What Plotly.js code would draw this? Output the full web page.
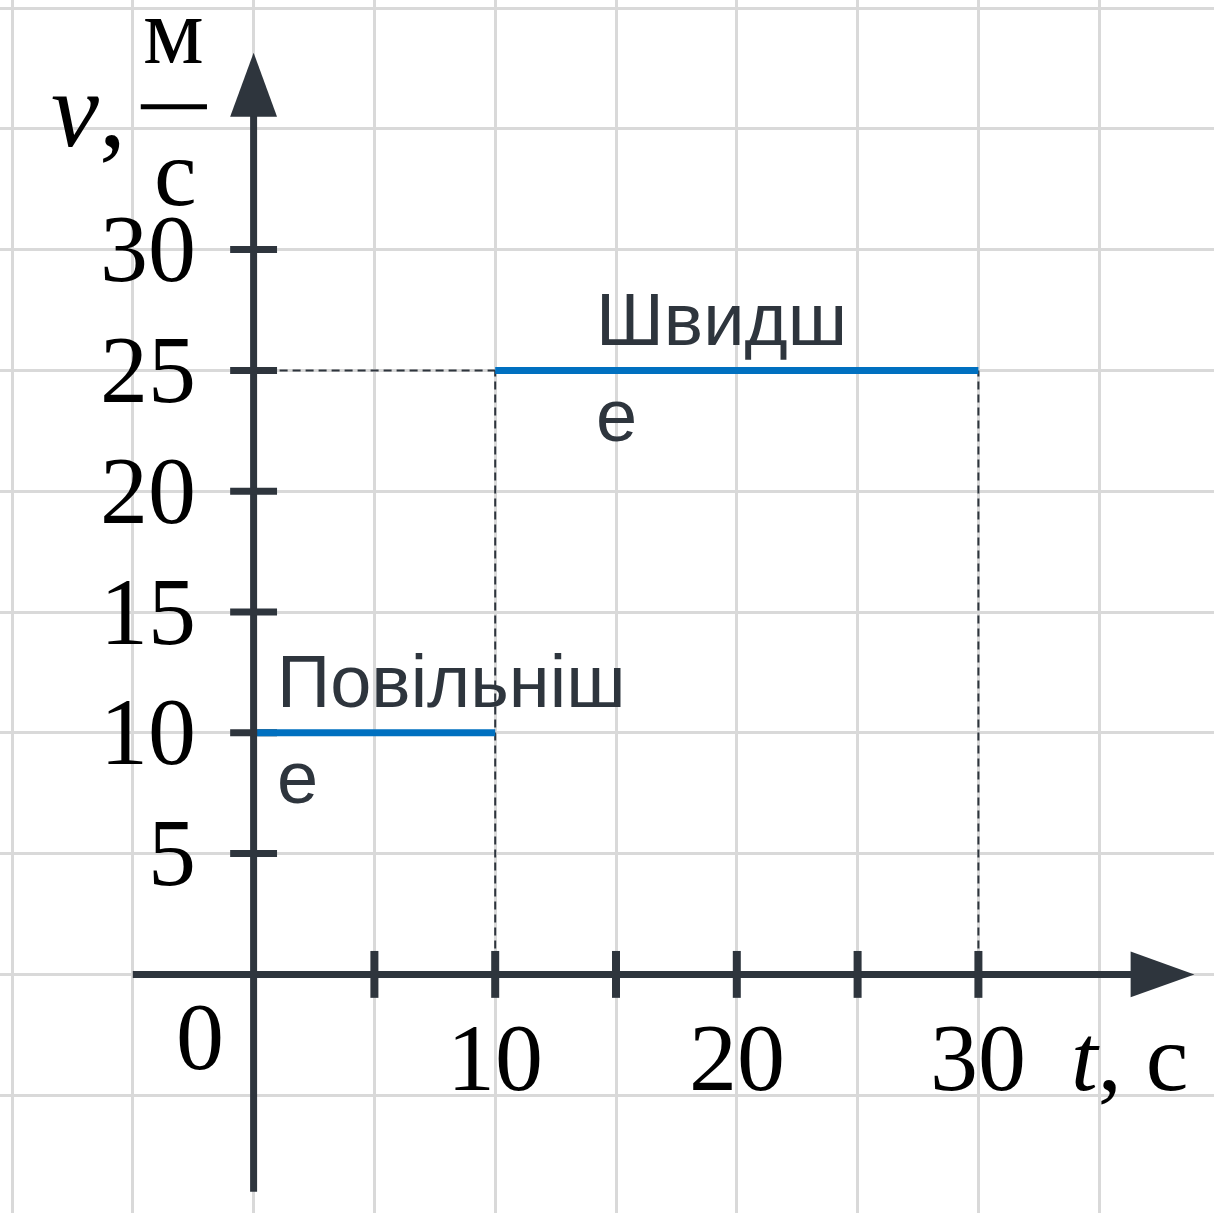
<!DOCTYPE html>
<html>
<head>
<meta charset="utf-8">
<script src="https://cdn.plot.ly/plotly-3.0.1.min.js"></script>
<style>html,body{margin:0;padding:0;background:#fff;}#chart{width:1214px;height:1213px;}</style>
</head>
<body>
<div id="chart"></div>
<script>
// ---- data ----
const segStart = [0, 10];
const segEnd = [10, 30];
const speeds = [10, 25];
const segLabels = ["Повільніш<br>е", "Швидш<br>е"];
const segLabelX = [0.9, 14.1];
const yTickVals = [5, 10, 15, 20, 25, 30];
const yTickText = ["5", "10", "15", "20", "25", "30"];
const xTickMarks = [5, 10, 15, 20, 25, 30];
const xTickVals = [10, 20, 30];
const xTickText = ["10", "20", "30"];
const originLabel = "0";
const xAxisLabel = "<i>t</i>, с";
const yAxisLabel = "<i>v</i>,";
const yUnitTop = "м";
const yUnitBottom = "с";

// ---- styles ----
const AX = "#2e353d";
const BLUE = "#0070c0";
const SERIF = "Liberation Serif, Times New Roman, serif";
const SANS = "Liberation Sans, Arial, sans-serif";
const pxPerUnit = 24.16;
const xr = [-10 - 12 / pxPerUnit, -10 + (1214 - 12) / pxPerUnit];
const yr = [40 - (1213 - 8) / pxPerUnit, 40 + 8 / pxPerUnit];

const traces = [];
// dashed guides
const guideStyle = {color: AX, width: 2, dash: "8px,5px"};
traces.push({x: [0, segStart[1]], y: [speeds[1], speeds[1]], mode: "lines", line: guideStyle, hoverinfo: "skip"});
traces.push({x: [segStart[1], segStart[1]], y: [0, speeds[1]], mode: "lines", line: guideStyle, hoverinfo: "skip"});
traces.push({x: [segEnd[1], segEnd[1]], y: [0, speeds[1]], mode: "lines", line: guideStyle, hoverinfo: "skip"});
// speed segments
for (let i = 0; i < speeds.length; i++) {
  traces.push({x: [segStart[i] + (i === 0 ? 0.15 : 0), segEnd[i]], y: [speeds[i], speeds[i]], mode: "lines",
    line: {color: BLUE, width: 7}, hoverinfo: "skip"});
}

const shapes = [];
const tickHalf = 0.97;
const L = "between";
// axes
shapes.push({type: "line", xref: "x", yref: "y", x0: -5, x1: 36.6, y0: 0, y1: 0, line: {color: AX, width: 7}, layer: L});
shapes.push({type: "line", xref: "x", yref: "y", x0: 0, x1: 0, y0: -9.0, y1: 35.8, line: {color: AX, width: 7}, layer: L});
// arrow heads
shapes.push({type: "path", xref: "x", yref: "y", path: "M 36.3 -0.95 L 38.94 0 L 36.3 0.95 Z", fillcolor: AX, line: {color: AX, width: 0}, layer: L});
shapes.push({type: "path", xref: "x", yref: "y", path: "M -0.97 35.5 L 0 38.15 L 0.97 35.5 Z", fillcolor: AX, line: {color: AX, width: 0}, layer: L});
// ticks
yTickVals.forEach(v => shapes.push({type: "line", xref: "x", yref: "y", x0: -tickHalf, x1: tickHalf, y0: v, y1: v, line: {color: AX, width: 7}, layer: L}));
xTickMarks.forEach(v => shapes.push({type: "line", xref: "x", yref: "y", x0: v, x1: v, y0: -tickHalf, y1: tickHalf, line: {color: AX, width: 8}, layer: L}));
// unit fraction bar
shapes.push({type: "line", xref: "x", yref: "y", x0: -4.67, x1: -1.93, y0: 35.91, y1: 35.91, line: {color: "#000", width: 5}, layer: "above"});

const annotations = [];
const tickFont = {family: SERIF, size: 96, color: "#000"};
const ys = 1;
yTickVals.forEach((v, i) => annotations.push({x: -2.3, y: v, xref: "x", yref: "y", text: yTickText[i], showarrow: false,
  xanchor: "right", yanchor: "middle", font: tickFont, yshift: ys}));
xTickVals.forEach((v, i) => annotations.push({x: v, y: -3.5, xref: "x", yref: "y", text: xTickText[i], showarrow: false,
  xanchor: "center", yanchor: "middle", font: tickFont, yshift: ys}));
annotations.push({x: -2.2, y: -2.6, xref: "x", yref: "y", text: originLabel, showarrow: false, xanchor: "center", yanchor: "middle", font: tickFont, yshift: ys});
annotations.push({x: 36.25, y: -3.5, xref: "x", yref: "y", text: xAxisLabel, showarrow: false, xanchor: "center", yanchor: "middle", font: tickFont, yshift: ys});
annotations.push({x: -5.2, y: 35.75, xref: "x", yref: "y", text: yAxisLabel, showarrow: false, xanchor: "right", yanchor: "middle", font: {family: SERIF, size: 108, color: "#000"}, yshift: ys});
annotations.push({x: -3.31, y: 39.03, xref: "x", yref: "y", text: yUnitTop, showarrow: false, xanchor: "center", yanchor: "middle", font: tickFont, yshift: ys});
annotations.push({x: -3.25, y: 33.13, xref: "x", yref: "y", text: yUnitBottom, showarrow: false, xanchor: "center", yanchor: "middle", font: tickFont, yshift: ys});
// segment labels
segLabels.forEach((t, i) => annotations.push({x: segLabelX[i], y: speeds[i], xref: "x", yref: "y", text: t, showarrow: false,
  xanchor: "left", yanchor: "middle", align: "left", font: {family: SANS, size: 74, color: AX}, yshift: 3}));

const layout = {
  width: 1214, height: 1213,
  margin: {l: 0, r: 0, t: 0, b: 0, pad: 0},
  paper_bgcolor: "#fff", plot_bgcolor: "#fff",
  showlegend: false,
  xaxis: {range: xr, tick0: 0, dtick: 5, showgrid: true, gridcolor: "#d9d9d9", gridwidth: 3,
    zeroline: false, showticklabels: false, showline: false, ticks: "", fixedrange: true},
  yaxis: {range: yr, tick0: 0, dtick: 5, showgrid: true, gridcolor: "#d9d9d9", gridwidth: 3,
    zeroline: false, showticklabels: false, showline: false, ticks: "", fixedrange: true},
  shapes: shapes,
  annotations: annotations
};
Plotly.newPlot("chart", traces, layout, {displayModeBar: false, staticPlot: true});
</script>
</body>
</html>
